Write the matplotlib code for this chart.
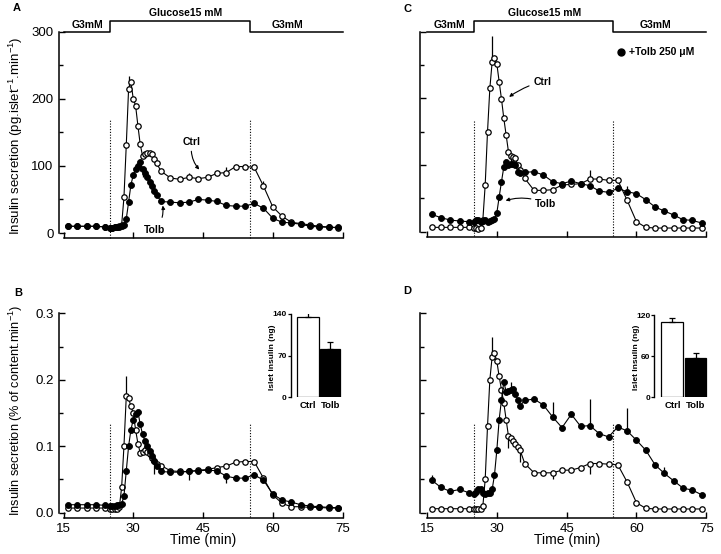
import matplotlib
matplotlib.use('Agg')
import matplotlib.pyplot as plt
import numpy as np

plt.rcParams['font.family'] = ['Liberation Sans', 'DejaVu Sans']
plt.rcParams['mathtext.fontset'] = 'custom'
plt.rcParams['mathtext.rm'] = 'Liberation Sans'
plt.rcParams['mathtext.it'] = 'Liberation Sans:italic'
plt.rcParams['mathtext.bf'] = 'Liberation Sans:bold'

# ---------------- data ----------------
time_min = [16, 18, 20, 22, 24,
            25, 25.5, 26, 26.5, 27, 27.5, 28, 28.5, 29, 29.5, 30, 30.5, 31, 31.5, 32,
            32.5, 33, 33.5, 34, 34.5, 35,
            36, 38, 40, 42, 44, 46, 48, 50, 52, 54, 56, 58, 60, 62, 64, 66, 68, 70, 72, 74]

# Panel A (pg/islet/min)
A_ctrl = [10, 10, 10, 10, 9,
          8, 8, 9, 9, 10, 12, 53, 131, 215, 225, 200, 190, 160, 132, 115, 118, 119, 119, 117, 111, 104,
          92, 82, 80, 83, 81, 83, 89, 90, 99, 99, 98, 70, 39, 25, 16, 14, 12, 10, 9, 7.5]
A_tolb = [10, 10, 10, 10, 9,
          8, 8, 8.5, 9, 9, 10, 12, 21, 46, 72, 86, 96, 100, 106, 96, 90, 83, 76, 70, 63, 57,
          47, 46, 45, 46, 50, 49, 47, 41, 40, 40, 44, 37, 22, 16, 15, 13, 10, 9, 8.5, 8.5]
# Panel B (% of content/min)
B_ctrl = [0.007, 0.007, 0.007, 0.007, 0.007,
          0.006, 0.006, 0.006, 0.006, 0.008, 0.038, 0.100, 0.175, 0.172, 0.160, 0.150, 0.125, 0.104,
          0.090, 0.092, 0.095, 0.092, 0.088, 0.082, 0.078, 0.074,
          0.071, 0.063, 0.062, 0.062, 0.064, 0.065, 0.068, 0.070, 0.076, 0.077, 0.077, 0.052, 0.027,
          0.014, 0.009, 0.009, 0.008, 0.008, 0.007, 0.007]
B_tolb = [0.012, 0.012, 0.012, 0.012, 0.011,
          0.010, 0.010, 0.010, 0.011, 0.011, 0.013, 0.025, 0.063, 0.100, 0.125, 0.140, 0.148, 0.152,
          0.133, 0.118, 0.108, 0.100, 0.093, 0.085, 0.078, 0.070,
          0.062, 0.061, 0.061, 0.062, 0.063, 0.064, 0.063, 0.055, 0.052, 0.052, 0.057, 0.049, 0.028,
          0.019, 0.016, 0.012, 0.010, 0.009, 0.008, 0.0075]
# Panel C (pg/islet/min, +Tolb 250 uM pretreatment)
C_ctrl = [6.5, 6.5, 6.5, 6.5, 6.5,
          5, 5, 4.5, 5, 18, 70, 150, 215, 255, 260, 252, 225, 199, 170, 145, 120, 114, 112, 110, 100, 92,
          80, 62, 62, 63, 70, 71, 72, 79, 79, 77, 77, 47, 15, 6.5, 5.5, 5.5, 5.5, 5.5, 5.5, 5.5]
C_tolb = [26, 21, 17.5, 16, 15,
          14, 17, 18, 15, 16, 18, 15, 16, 17, 19, 28, 52, 75, 97, 105, 100, 101, 102, 100, 90, 88,
          89, 90, 85, 75, 72, 76, 72, 69, 61, 59, 65, 60, 57, 48, 37, 31, 25, 18, 17, 13]
# Panel D (% of content/min)
D_ctrl = [0.006, 0.006, 0.006, 0.006, 0.006,
          0.005, 0.005, 0.005, 0.005, 0.010, 0.050, 0.130, 0.200, 0.235, 0.240, 0.228, 0.205, 0.185,
          0.165, 0.140, 0.115, 0.112, 0.108, 0.104, 0.099, 0.094,
          0.074, 0.060, 0.060, 0.060, 0.064, 0.064, 0.068, 0.074, 0.074, 0.073, 0.072, 0.046, 0.015,
          0.0066, 0.0056, 0.0056, 0.0056, 0.0056, 0.0056, 0.0056]
D_tolb = [0.049, 0.038, 0.032, 0.035, 0.030,
          0.028, 0.031, 0.036, 0.036, 0.030, 0.028, 0.030, 0.029, 0.035, 0.057, 0.094, 0.140, 0.170,
          0.197, 0.182, 0.183, 0.184, 0.186, 0.178, 0.170, 0.161,
          0.169, 0.171, 0.162, 0.144, 0.128, 0.148, 0.130, 0.131, 0.119, 0.114, 0.129, 0.123, 0.109,
          0.094, 0.072, 0.059, 0.048, 0.037, 0.034, 0.027]

# SEM bars (time, signed error)
errA_ctrl_t, errA_ctrl_e = [29, 42, 50, 58], [19, 6, 9, 8]
errA_tolb_t, errA_tolb_e = [31.5, 32], [-14, -12]
errB_ctrl_t, errB_ctrl_e = [28.5], [0.030]
errB_tolb_t, errB_tolb_e = [34.5, 42, 50], [-0.020, -0.013, -0.010]
errC_ctrl_t, errC_ctrl_e = [29, 50], [38, 14]
errC_tolb_t, errC_tolb_e = [33, 35, 58], [12, 12, 8]
errD_ctrl_t, errD_ctrl_e = [29, 32.5, 35, 42, 50], [0.030, -0.018, -0.018, -0.010, -0.016]
errD_tolb_t, errD_tolb_e = [16, 33, 42, 50, 58, 66], [0.007, 0.012, 0.022, 0.040, 0.034, 0.010]

# Insets: islet insulin content (ng)
inset_labels = ['Ctrl', 'Tolb']
insetB_vals, insetB_err = [135, 81], [14, 12]
insetD_vals, insetD_err = [110, 57], [5, 8]

glucose_steps = [25, 55]
x_ticks = [15, 30, 45, 60, 75]

# ---------------- figure ----------------
W, H = 721, 554
fig = plt.figure(figsize=(W / 100, H / 100), dpi=100)


def px_rect(x0, y_top, x1, y_bot):
    return [x0 / W, 1 - y_bot / H, (x1 - x0) / W, (y_bot - y_top) / H]


def ftext(x, y, s, **kw):
    fig.text(x / W, 1 - y / H, s, **kw)


def style_main(ax, ymax, major, minor, left_off, ylabels, xlabels):
    ax.set_xlim(15, 75)
    ax.set_ylim(0, ymax)
    for s in ['top', 'right']:
        ax.spines[s].set_visible(False)
    ax.spines['left'].set_position(('outward', left_off))
    ax.spines['bottom'].set_position(('outward', 3.6))
    for s in ['left', 'bottom']:
        ax.spines[s].set_linewidth(1.1)
    ax.set_xticks(x_ticks)
    ax.set_yticks(major)
    ax.set_yticks(minor, minor=True)
    ax.tick_params(axis='both', which='major', direction='in', length=4, width=1, labelsize=9.5)
    ax.tick_params(axis='y', which='minor', direction='in', length=3, width=1)
    if not ylabels:
        ax.set_yticklabels([])
    if not xlabels:
        ax.set_xticklabels([])
    ax.patch.set_alpha(0)


def draw_series(ax, yc, yt, ec_t, ec_e, et_t, et_e, vtop, vbot):
    ax.vlines(glucose_steps, vbot, vtop, colors='k', linestyles=(0, (1, 1.5)), linewidth=0.8, clip_on=False)
    for tt, ee in zip(ec_t, ec_e):
        y = yc[time_min.index(tt)]
        ax.vlines(tt, y, y + ee, colors='k', linewidth=0.9, clip_on=False, zorder=2)
    for tt, ee in zip(et_t, et_e):
        y = yt[time_min.index(tt)]
        ax.vlines(tt, y, y + ee, colors='k', linewidth=0.9, clip_on=False, zorder=2)
    ax.plot(time_min, yc, '-', color='k', lw=0.8, marker='o', ms=3.9, mfc='white', mec='k',
            mew=0.9, clip_on=False, zorder=3)
    ax.plot(time_min, yt, '-', color='k', lw=0.8, marker='o', ms=4.3, mfc='k', mec='k',
            mew=0.6, clip_on=False, zorder=4)


def glucose_bar(ax, lo, hi):
    ax.plot([15, glucose_steps[0], glucose_steps[0], glucose_steps[1], glucose_steps[1], 75],
            [lo, lo, hi, hi, lo, lo], color='k', lw=1.1, clip_on=False)


def inset(rect, vals, errs, ymax, yticks):
    ax = fig.add_axes(rect)
    ax.bar([0, 1], vals, width=[0.95, 0.88], color=['white', 'black'], edgecolor='black', linewidth=0.9)
    ax.errorbar([0, 1], vals, yerr=[[0, 0], errs], fmt='none', ecolor='k', elinewidth=0.9,
                capsize=2.5, capthick=0.9)
    ax.set_ylim(0, ymax)
    ax.set_xlim(-0.78, 1.53)
    for s in ['top', 'right', 'bottom']:
        ax.spines[s].set_visible(False)
    ax.spines['left'].set_linewidth(1.0)
    ax.set_yticks(yticks)
    ax.tick_params(axis='y', direction='out', length=2.0, width=0.9, labelsize=6.0, pad=0.8)
    for lab in ax.get_yticklabels():
        lab.set_fontweight('bold')
    ax.set_xticks([0, 1])
    ax.set_xticklabels(inset_labels, fontsize=6.8, fontweight='bold')
    ax.tick_params(axis='x', length=0, pad=3)
    ax.patch.set_alpha(0)
    return ax


# ---- Panel A ----
axA = fig.add_axes(px_rect(63.5, 31.7, 342.5, 233))
style_main(axA, 300, [0, 100, 200, 300], [50, 150, 250], 3.6, True, False)
draw_series(axA, A_ctrl, A_tolb, errA_ctrl_t, errA_ctrl_e, errA_tolb_t, errA_tolb_e, 168, -7)
glucose_bar(axA, 300, 316.5)
axA.annotate('Ctrl', xy=(44.4, 93), xytext=(42.6, 128), fontsize=7.5, fontweight='bold',
             ha='center', va='bottom',
             arrowprops=dict(arrowstyle='-|>', lw=0.8, color='k', mutation_scale=5,
                             connectionstyle='arc3,rad=0.25', shrinkA=1, shrinkB=1))
axA.annotate('Tolb', xy=(36.3, 43), xytext=(34.6, 4), fontsize=7.5, fontweight='bold',
             ha='center', va='center',
             arrowprops=dict(arrowstyle='-|>', lw=0.8, color='k', mutation_scale=5,
                             connectionstyle='arc3,rad=0.25', shrinkA=4, shrinkB=1))

# ---- Panel B ----
axB = fig.add_axes(px_rect(63.5, 313.3, 342.5, 512.7))
style_main(axB, 0.3, [0.0, 0.1, 0.2, 0.3], [0.05, 0.15, 0.25], 3.6, True, True)
axB.set_yticklabels(['0.0', '0.1', '0.2', '0.3'])
draw_series(axB, B_ctrl, B_tolb, errB_ctrl_t, errB_ctrl_e, errB_tolb_t, errB_tolb_e, 0.135, -0.007)
axB.set_xlabel('Time (min)', fontsize=10, labelpad=-1)

# ---- Panel C ----
axC = fig.add_axes(px_rect(427, 31.7, 706.3, 231.7))
style_main(axC, 300, [0, 100, 200, 300], [50, 150, 250], 5.2, False, False)
draw_series(axC, C_ctrl, C_tolb, errC_ctrl_t, errC_ctrl_e, errC_tolb_t, errC_tolb_e, 168, -7)
glucose_bar(axC, 299, 316.5)
axC.annotate('Ctrl', xy=(32.4, 201), xytext=(37.8, 225), fontsize=7.5, fontweight='bold',
             ha='left', va='center',
             arrowprops=dict(arrowstyle='-|>', lw=0.8, color='k', mutation_scale=5,
                             connectionstyle='arc3,rad=0.1', shrinkA=1, shrinkB=1))
axC.annotate('Tolb', xy=(31.6, 46), xytext=(38.2, 42), fontsize=7.5, fontweight='bold',
             ha='left', va='center',
             arrowprops=dict(arrowstyle='-|>', lw=0.8, color='k', mutation_scale=5,
                             connectionstyle='arc3,rad=0.2', shrinkA=1, shrinkB=1))
axC.plot([56.6], [270], 'o', color='k', ms=5.0, clip_on=False)
axC.text(58.3, 270, '+Tolb 250 μM', fontsize=7.5, fontweight='bold', va='center', ha='left')

# ---- Panel D ----
axD = fig.add_axes(px_rect(427, 313.3, 706.3, 512.7))
style_main(axD, 0.3, [0.0, 0.1, 0.2, 0.3], [0.05, 0.15, 0.25], 5.2, False, True)
draw_series(axD, D_ctrl, D_tolb, errD_ctrl_t, errD_ctrl_e, errD_tolb_t, errD_tolb_e, 0.135, -0.007)
axD.set_xlabel('Time (min)', fontsize=10, labelpad=-1)

# ---- Insets ----
inB = inset(px_rect(290.7, 314, 342, 397.3), insetB_vals, insetB_err, 140, [0, 70, 140])
inD = inset(px_rect(654.3, 315, 708, 397.3), insetD_vals, insetD_err, 120, [0, 60, 120])
ftext(272.5, 357, 'Islet insulin (ng)', rotation=90, fontsize=6.0, fontweight='bold', ha='center', va='center')
ftext(636.5, 357, 'Islet Insulin (ng)', rotation=90, fontsize=6.0, fontweight='bold', ha='center', va='center')

# ---- Glucose labels ----
ftext(87, 24.5, 'G3mM', fontsize=7.5, fontweight='bold', ha='center', va='center')
ftext(186, 13, 'Glucose15 mM', fontsize=7.5, fontweight='bold', ha='center', va='center')
ftext(288, 24.5, 'G3mM', fontsize=7.5, fontweight='bold', ha='center', va='center')
ftext(450, 24.5, 'G3mM', fontsize=7.5, fontweight='bold', ha='center', va='center')
ftext(545, 13, 'Glucose15 mM', fontsize=7.5, fontweight='bold', ha='center', va='center')
ftext(655, 24.5, 'G3mM', fontsize=7.5, fontweight='bold', ha='center', va='center')

# ---- Panel letters ----
ftext(17, 8, 'A', fontsize=8, fontweight='bold', ha='center', va='center')
ftext(18, 293, 'B', fontsize=8, fontweight='bold', ha='center', va='center')
ftext(408, 9, 'C', fontsize=8, fontweight='bold', ha='center', va='center')
ftext(407, 291, 'D', fontsize=8, fontweight='bold', ha='center', va='center')

# ---- Y labels ----
ftext(16, 136, r'Insulin secretion (pg.islet$^{-1}$.min$^{-1}$)', rotation=90, fontsize=9.5,
      ha='center', va='center')
ftext(16, 410, r'Insulin secretion (% of content.min$^{-1}$)', rotation=90, fontsize=9.2,
      ha='center', va='center')

fig.savefig('out.png', dpi=100)
